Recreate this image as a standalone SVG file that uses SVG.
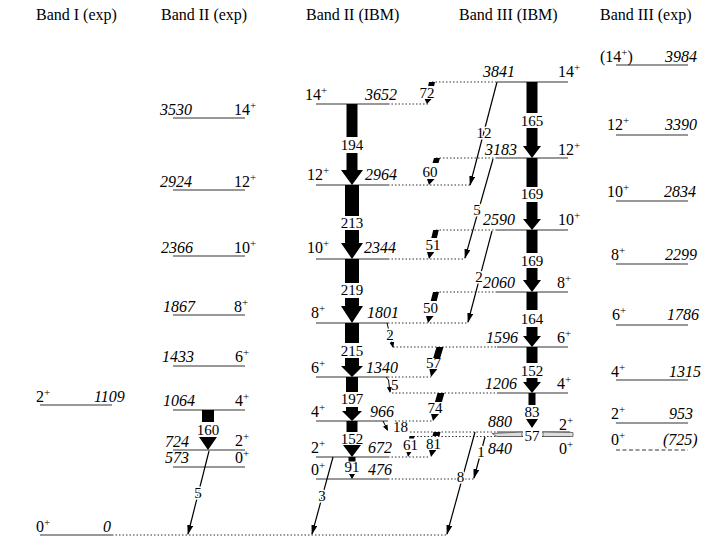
<svg xmlns="http://www.w3.org/2000/svg" width="727" height="545" viewBox="0 0 727 545" font-family="Liberation Serif, Times New Roman, serif">
<style>
text{font-family:'Liberation Serif','Times New Roman',serif;fill:#000}
.t{font-size:16px}
.e{font-size:16px;font-style:italic}
.s{font-size:16px}
.p{font-size:11px}
.n{font-size:15px;text-anchor:middle}
.h{paint-order:stroke;stroke:#fff;stroke-width:3px;stroke-linejoin:round}
.lv{stroke:#333;stroke-width:1.1;fill:none}
.dt{stroke:#333;stroke-width:1;stroke-dasharray:1.5 2;fill:none}
.ds{stroke:#333;stroke-width:1;stroke-dasharray:4 2.5;fill:none}
.th{stroke:#000;stroke-width:1.2;fill:none;marker-end:url(#ah)}
.ts{stroke:#000;stroke-width:1;fill:none;marker-end:url(#as)}
.k{fill:#000;stroke:none}
</style>
<defs>
<marker id="ah" viewBox="0 0 10 6" refX="9" refY="3" markerWidth="10" markerHeight="6" orient="auto" markerUnits="userSpaceOnUse"><path d="M0,0 L10,3 L0,6 z"/></marker>
<marker id="as" viewBox="0 0 6 5" refX="5" refY="2.5" markerWidth="6" markerHeight="5" orient="auto" markerUnits="userSpaceOnUse"><path d="M0,0 L6,2.5 L0,5 z"/></marker>
</defs>

<g id="titles">
<text class="t" x="36" y="20">Band I (exp)</text>
<text class="t" x="161" y="20">Band II (exp)</text>
<text class="t" x="306" y="20">Band II (IBM)</text>
<text class="t" x="459" y="20">Band III (IBM)</text>
<text class="t" x="600" y="20">Band III (exp)</text>
</g>

<!-- Band I (exp) -->
<g id="bI-0"><line class="lv" x1="40" y1="535" x2="112" y2="535"/><text class="s" x="36" y="532">0<tspan class="p" dy="-6">+</tspan></text><text class="e" x="103" y="532">0</text></g>
<g id="bI-2"><line class="lv" x1="40" y1="405" x2="112" y2="405"/><text class="s" x="36" y="402">2<tspan class="p" dy="-6">+</tspan></text><text class="e" x="94" y="402">1109</text></g>

<!-- Band II (exp) -->
<g id="bIIe-14"><line class="lv" x1="173" y1="118" x2="245" y2="118"/><text class="e" x="160" y="115">3530</text><text class="s" x="234" y="115">14<tspan class="p" dy="-6">+</tspan></text></g>
<g id="bIIe-12"><line class="lv" x1="173" y1="190" x2="245" y2="190"/><text class="e" x="160" y="187">2924</text><text class="s" x="234" y="187">12<tspan class="p" dy="-6">+</tspan></text></g>
<g id="bIIe-10"><line class="lv" x1="173" y1="256" x2="245" y2="256"/><text class="e" x="161" y="253">2366</text><text class="s" x="234" y="253">10<tspan class="p" dy="-6">+</tspan></text></g>
<g id="bIIe-8"><line class="lv" x1="173" y1="315" x2="245" y2="315"/><text class="e" x="163" y="312">1867</text><text class="s" x="234" y="312">8<tspan class="p" dy="-6">+</tspan></text></g>
<g id="bIIe-6"><line class="lv" x1="173" y1="366" x2="245" y2="366"/><text class="e" x="162" y="362">1433</text><text class="s" x="235" y="362">6<tspan class="p" dy="-6">+</tspan></text></g>
<g id="bIIe-4"><line class="lv" x1="173" y1="410" x2="245" y2="410"/><text class="e" x="163" y="406">1064</text><text class="s" x="235" y="406">4<tspan class="p" dy="-6">+</tspan></text></g>
<g id="bIIe-2"><line class="lv" x1="173" y1="450" x2="245" y2="450"/><text class="e" x="165" y="447">724</text><text class="s" x="235" y="446">2<tspan class="p" dy="-6">+</tspan></text></g>
<g id="bIIe-0"><line class="lv" x1="173" y1="467" x2="245" y2="467"/><text class="e" x="165" y="463">573</text><text class="s" x="235" y="463">0<tspan class="p" dy="-6">+</tspan></text></g>

<!-- Band II (IBM) -->
<g id="bIIi-14"><line class="lv" x1="316" y1="104" x2="388" y2="104"/><text class="s" x="305" y="100">14<tspan class="p" dy="-6">+</tspan></text><text class="e" x="365" y="100">3652</text></g>
<g id="bIIi-12"><line class="lv" x1="316" y1="185" x2="388" y2="185"/><text class="s" x="307" y="180">12<tspan class="p" dy="-6">+</tspan></text><text class="e" x="365" y="180">2964</text></g>
<g id="bIIi-10"><line class="lv" x1="316" y1="259" x2="388" y2="259"/><text class="s" x="307" y="253">10<tspan class="p" dy="-6">+</tspan></text><text class="e" x="364" y="253">2344</text></g>
<g id="bIIi-8"><line class="lv" x1="316" y1="323" x2="388" y2="323"/><text class="s" x="311" y="318">8<tspan class="p" dy="-6">+</tspan></text><text class="e" x="367" y="318">1801</text></g>
<g id="bIIi-6"><line class="lv" x1="316" y1="377" x2="388" y2="377"/><text class="s" x="311" y="373">6<tspan class="p" dy="-6">+</tspan></text><text class="e" x="366" y="373">1340</text></g>
<g id="bIIi-4"><line class="lv" x1="316" y1="421" x2="388" y2="421"/><text class="s" x="311" y="417">4<tspan class="p" dy="-6">+</tspan></text><text class="e" x="370" y="417">966</text></g>
<g id="bIIi-2"><line class="lv" x1="316" y1="457" x2="388" y2="457"/><text class="s" x="311" y="453">2<tspan class="p" dy="-6">+</tspan></text><text class="e" x="368" y="453">672</text></g>
<g id="bIIi-0"><line class="lv" x1="316" y1="479" x2="388" y2="479"/><text class="s" x="311" y="475">0<tspan class="p" dy="-6">+</tspan></text><text class="e" x="368" y="475">476</text></g>

<!-- Band III (IBM) -->
<g id="bIIIi-14"><line class="lv" x1="497" y1="82" x2="568" y2="82"/><text class="e" x="483" y="77">3841</text><text class="s" x="558" y="77">14<tspan class="p" dy="-6">+</tspan></text></g>
<g id="bIIIi-12"><line class="lv" x1="497" y1="158" x2="568" y2="158"/><text class="e" x="485" y="155">3183</text><text class="s" x="558" y="155">12<tspan class="p" dy="-6">+</tspan></text></g>
<g id="bIIIi-10"><line class="lv" x1="497" y1="230" x2="568" y2="230"/><text class="e" x="483" y="225">2590</text><text class="s" x="558" y="225">10<tspan class="p" dy="-6">+</tspan></text></g>
<g id="bIIIi-8"><line class="lv" x1="497" y1="292" x2="568" y2="292"/><text class="e" x="483" y="288">2060</text><text class="s" x="557" y="288">8<tspan class="p" dy="-6">+</tspan></text></g>
<g id="bIIIi-6"><line class="lv" x1="497" y1="347" x2="568" y2="347"/><text class="e" x="486" y="343">1596</text><text class="s" x="557" y="343">6<tspan class="p" dy="-6">+</tspan></text></g>
<g id="bIIIi-4"><line class="lv" x1="497" y1="393" x2="568" y2="393"/><text class="e" x="485" y="389">1206</text><text class="s" x="557" y="389">4<tspan class="p" dy="-6">+</tspan></text></g>
<g id="bIIIi-2"><line class="lv" x1="497" y1="432" x2="570" y2="432"/><text class="e" x="488" y="427">880</text><text class="s" x="559" y="430">2<tspan class="p" dy="-6">+</tspan></text></g>
<g id="bIIIi-0"><line class="lv" x1="497" y1="436.5" x2="570" y2="436.5"/><text class="e" x="488" y="454">840</text><text class="s" x="559" y="454">0<tspan class="p" dy="-6">+</tspan></text></g>

<!-- Band III (exp) -->
<g id="bIIIe-14"><line class="lv" x1="616" y1="65" x2="688" y2="65"/><text class="s" x="600" y="62">(14<tspan class="p" dy="-6">+</tspan><tspan dy="6">)</tspan></text><text class="e" x="665" y="62">3984</text></g>
<g id="bIIIe-12"><line class="lv" x1="616" y1="135" x2="688" y2="135"/><text class="s" x="607" y="130">12<tspan class="p" dy="-6">+</tspan></text><text class="e" x="665" y="130">3390</text></g>
<g id="bIIIe-10"><line class="lv" x1="616" y1="201" x2="688" y2="201"/><text class="s" x="607" y="197">10<tspan class="p" dy="-6">+</tspan></text><text class="e" x="664" y="197">2834</text></g>
<g id="bIIIe-8"><line class="lv" x1="616" y1="264" x2="688" y2="264"/><text class="s" x="611" y="260">8<tspan class="p" dy="-6">+</tspan></text><text class="e" x="665" y="260">2299</text></g>
<g id="bIIIe-6"><line class="lv" x1="616" y1="325" x2="688" y2="325"/><text class="s" x="612" y="320">6<tspan class="p" dy="-6">+</tspan></text><text class="e" x="667" y="320">1786</text></g>
<g id="bIIIe-4"><line class="lv" x1="616" y1="380" x2="688" y2="380"/><text class="s" x="611" y="377">4<tspan class="p" dy="-6">+</tspan></text><text class="e" x="669" y="377">1315</text></g>
<g id="bIIIe-2"><line class="lv" x1="616" y1="423" x2="688" y2="423"/><text class="s" x="611" y="419">2<tspan class="p" dy="-6">+</tspan></text><text class="e" x="669" y="419">953</text></g>
<g id="bIIIe-0"><line class="ds" x1="616" y1="450" x2="688" y2="450"/><text class="s" x="611" y="445">0<tspan class="p" dy="-6">+</tspan></text><text class="e" x="663" y="445">(725)</text></g>

<g id="connectors">
<!-- dotted level extensions -->
<line class="dt" x1="112" y1="535" x2="448" y2="535"/>
<line class="dt" x1="388" y1="104" x2="428" y2="104"/>
<line class="dt" x1="388" y1="185" x2="470" y2="185"/>
<line class="dt" x1="388" y1="259" x2="465" y2="259"/>
<line class="dt" x1="388" y1="323" x2="467" y2="323"/>
<line class="dt" x1="388" y1="377" x2="431" y2="377"/>
<line class="dt" x1="395" y1="421" x2="433" y2="421"/>
<line class="dt" x1="388" y1="457" x2="430" y2="457"/>
<line class="dt" x1="388" y1="479" x2="474" y2="479"/>
<line class="dt" x1="432" y1="82" x2="497" y2="82"/>
<line class="dt" x1="436" y1="158" x2="497" y2="158"/>
<line class="dt" x1="436" y1="230" x2="497" y2="230"/>
<line class="dt" x1="436" y1="292" x2="497" y2="292"/>
<line class="dt" x1="393" y1="347" x2="497" y2="347"/>
<line class="dt" x1="392" y1="393" x2="497" y2="393"/>
<line class="dt" x1="410" y1="432" x2="497" y2="432"/>
<line class="dt" x1="410" y1="436.5" x2="497" y2="436.5"/>

<!-- Band II (exp) 160 -->
<path class="k" d="M202,410 H214 V422 H202 Z M199,437 H217 L208,450 Z"/>
<text class="n" x="208" y="435">160</text>
<line class="th" x1="209" y1="451" x2="188" y2="534"/>
<text class="n h" x="198" y="498">5</text>

<!-- Band II (IBM) intraband -->
<path class="k" d="M346.5,104 H357.5 V137 H346.5 Z M346.5,153 H357.5 V170 H346.5 Z M341,170 H363 L352,185 Z"/>
<text class="n" x="352" y="150">194</text>
<path class="k" d="M345,185 H359 V216 H345 Z M345,230 H359 V243 H345 Z M341,243 H363 L352,259 Z"/>
<text class="n" x="352" y="228">213</text>
<path class="k" d="M345,259 H359 V283 H345 Z M345,298 H359 V306 H345 Z M341,306 H363 L352,323 Z"/>
<text class="n" x="352" y="295">219</text>
<path class="k" d="M345,323 H359 V343 H345 Z M345,358 H359 V366 H345 Z M341,366 H363 L352,377 Z"/>
<text class="n" x="352" y="356">215</text>
<path class="k" d="M346,377 H358 V392 H346 Z M346,407 H358 V411 H346 Z M342,411 H362 L352,421 Z"/>
<text class="n" x="352" y="404">197</text>
<path class="k" d="M346.5,421 H357.5 V432 H346.5 Z M343,445 H361 L352,457 Z"/>
<text class="n" x="352" y="443.5">152</text>
<path class="k" d="M348.5,457 H355.5 V461.5 H348.5 Z M349,474 H355 L352,479 Z"/>
<text class="n" x="352" y="472">91</text>
<line class="th" x1="333" y1="457" x2="312" y2="534"/>
<text class="n h" x="322" y="501">3</text>

<!-- Band II -> Band III small -->
<line class="ts" x1="387" y1="323" x2="393" y2="347"/>
<text class="n h" x="390" y="340">2</text>
<path class="ts" d="M386,377 L388.5,380 L390,392"/>
<text class="s" x="391" y="390" style="font-size:15px">5</text>
<line class="ts" x1="383" y1="421" x2="387.5" y2="430"/>
<text class="s" x="393" y="432" style="font-size:15px">18</text>

<!-- Band III (IBM) intraband -->
<path class="k" d="M526.5,82 H537.5 V113 H526.5 Z M526.5,128 H537.5 V146 H526.5 Z M523,146 H541 L532,158 Z"/>
<text class="n" x="532" y="126">165</text>
<path class="k" d="M526.5,158 H537.5 V187 H526.5 Z M526.5,202 H537.5 V219 H526.5 Z M523,219 H541 L532,230 Z"/>
<text class="n" x="532" y="199">169</text>
<path class="k" d="M526.5,230 H537.5 V253 H526.5 Z M526.5,268 H537.5 V280 H526.5 Z M523,280 H541 L532,292 Z"/>
<text class="n" x="532" y="266">169</text>
<path class="k" d="M526.5,292 H537.5 V310 H526.5 Z M526.5,327 H537.5 V336 H526.5 Z M523,336 H541 L532,347 Z"/>
<text class="n" x="532" y="323.5">164</text>
<path class="k" d="M526.5,347 H537.5 V363 H526.5 Z M526.5,378 H537.5 V382 H526.5 Z M523,382 H541 L532,393 Z"/>
<text class="n" x="532" y="376">152</text>
<path class="k" d="M528.5,393 H535.5 V405 H528.5 Z M526,419 H538 L532,428 Z"/>
<text class="n" x="532" y="417">83</text>
<path d="M492,433.5 L522,432 L522,436.5 L497,436.5 Z M543,432 L573,432.5 L573,436.5 L543,436.5 Z" fill="#ddd" stroke="#555" stroke-width="0.8"/>
<rect x="523" y="429" width="19" height="12" fill="#fff"/>
<text class="n" x="532" y="441">57</text>

<!-- Band III -> Band II thick -->
<path class="k" d="M429,82 L435,82 L434.1,86 L428.1,86 Z M424.6,99 L431.6,99 L427,104 Z"/>
<text class="n" x="427" y="98">72</text>
<path class="k" d="M434,158 L440,158 L438.5,163 L432.5,163 Z M427,179 L434.6,179 L429,185 Z"/>
<text class="n" x="430" y="177">60</text>
<path class="k" d="M433.2,230 L438.8,230 L436.9,238 L431.3,238 Z M427,252 L434.4,252 L429,259 Z"/>
<text class="n" x="433" y="250">51</text>
<path class="k" d="M433,292 L439,292 L436.7,301 L430.7,301 Z M426,316 L433.6,316 L428,323 Z"/>
<text class="n" x="430.5" y="313">50</text>
<path class="k" d="M436.5,347 L443.5,347 L440.2,358 L433.2,358 Z M429.4,369 L437.4,369 L431,377 Z"/>
<text class="n" x="433.5" y="368">57</text>
<path class="k" d="M437.5,393 L444.5,393 L441.9,402 L434.9,402 Z M431,414 L439,414 L433,421 Z"/>
<text class="n" x="435" y="413">74</text>
<path class="k" d="M433.5,432 L440.5,432 L439.5,436 L432.5,436 Z M429,450 L436.4,450 L431,457 Z"/>
<text class="n" x="433.5" y="449">81</text>
<path class="k" d="M409.5,436 L414.5,436 L414,438.5 L409,438.5 Z M406.4,452 L411.4,452 L408,457 Z"/>
<text class="n" x="410.5" y="450">61</text>

<!-- Band III -> Band II / I thin -->
<line class="th" x1="497" y1="82" x2="470" y2="185"/>
<text class="n h" x="484" y="138">12</text>
<line class="th" x1="493" y1="159" x2="465" y2="258"/>
<text class="n h" x="477" y="215">5</text>
<line class="th" x1="492" y1="231" x2="468" y2="322"/>
<text class="n h" x="479" y="282">2</text>
<line class="th" x1="485" y1="437" x2="474" y2="478"/>
<text class="n h" x="481" y="457">1</text>
<line class="th" x1="475" y1="432" x2="447" y2="534"/>
<text class="n h" x="460.5" y="482">8</text>
</g>
</svg>
